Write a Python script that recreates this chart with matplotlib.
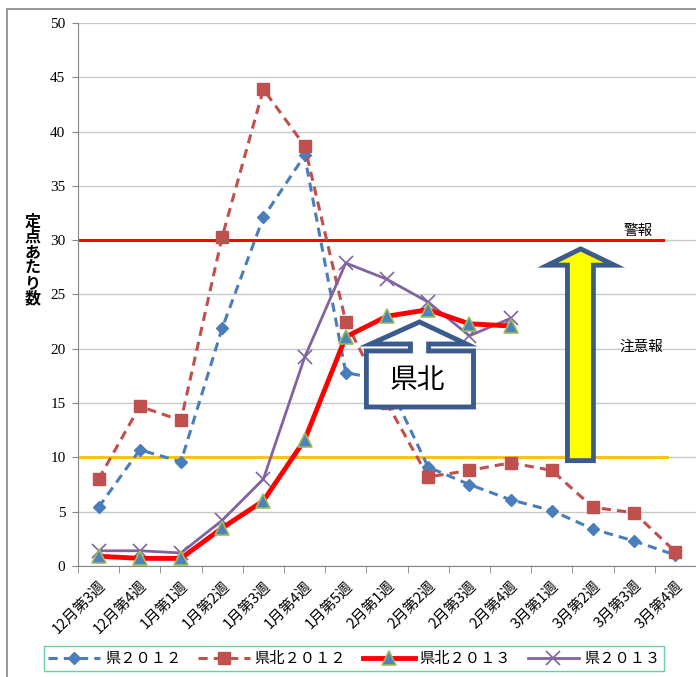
import matplotlib
matplotlib.use('Agg')
import matplotlib.pyplot as plt
from matplotlib.patches import Polygon, Rectangle

plt.rcParams['font.family'] = ['Noto Sans CJK JP', 'DejaVu Sans']

# data
weeks = ['12月第3週', '12月第4週', '1月第1週', '1月第2週', '1月第3週', '1月第4週',
         '1月第5週', '2月第1週', '2月第2週', '2月第3週', '2月第4週', '3月第1週',
         '3月第2週', '3月第3週', '3月第4週']
ken_2012 = [5.4, 10.7, 9.6, 21.9, 32.1, 37.8, 17.8, 17.1, 9.1, 7.5, 6.1, 5.1, 3.4, 2.3, 1.0]
kenhoku_2012 = [8.0, 14.7, 13.4, 30.3, 43.9, 38.7, 22.5, 15.0, 8.2, 8.8, 9.5, 8.8, 5.4, 4.9, 1.3]
kenhoku_2013 = [0.9, 0.7, 0.7, 3.5, 6.0, 11.6, 21.1, 23.0, 23.6, 22.3, 22.1]
ken_2013 = [1.4, 1.4, 1.2, 4.2, 8.0, 19.2, 27.9, 26.4, 24.3, 21.2, 22.8]
warning_level = 30
caution_level = 10

fig = plt.figure(figsize=(6.96, 6.77), dpi=100)
ax = fig.add_axes([0.112, 0.164, 0.888, 0.802])

x_all = list(range(len(weeks)))

# threshold lines
ax.plot([-0.5, 13.71], [warning_level, warning_level], color='#FF0000', lw=2.2, zorder=2)
ax.plot([-0.45, 13.8], [caution_level, caution_level], color='#FFC000', lw=2.0, zorder=2)

l1, = ax.plot(x_all, ken_2012, color='#4A7EBB', lw=2.2, ls=(0, (3, 2)),
              marker='D', ms=6.5, mfc='#4A7EBB', mec='#4A7EBB', zorder=4)
l2, = ax.plot(x_all, kenhoku_2012, color='#C0504D', lw=2.2, ls=(0, (3, 2)),
              marker='s', ms=8.5, mfc='#C0504D', mec='#C0504D', zorder=4)
x13 = list(range(len(kenhoku_2013)))
l3, = ax.plot(x13, kenhoku_2013, color='#FF0000', lw=3.5,
              marker='^', ms=10.5, mfc='#4F81BD', mec='#9BBB59', mew=1.2, zorder=5)
l4, = ax.plot(list(range(len(ken_2013))), ken_2013, color='#8064A2', lw=2.0,
              marker='x', ms=9.5, mew=1.2, zorder=4)

ax.set_xlim(-0.5, len(weeks) - 0.5)
ax.set_ylim(0, 50)
ax.set_yticks(range(0, 51, 5))
ax.tick_params(axis='y', labelsize=11, length=4, color='#868686', pad=5)
for t in ax.get_yticklabels():
    t.set_fontfamily(['Liberation Serif', 'DejaVu Serif'])
ax.yaxis.grid(True, color='#C8C8C8', lw=1.0)
ax.set_axisbelow(True)

ax.set_xticks(x_all)
ax.set_xticklabels(weeks, rotation=45, ha='right', rotation_mode='anchor', fontsize=10.5)
ax.set_xticks([i - 0.5 for i in range(len(weeks) + 1)], minor=True)
ax.tick_params(axis='x', which='major', length=0, pad=9)
ax.tick_params(axis='x', which='minor', length=5, color='#868686')

for s in ['top', 'right']:
    ax.spines[s].set_visible(False)
ax.spines['left'].set_color('#868686')
ax.spines['bottom'].set_color('#868686')

# labels on the right
ax.text(13.1, 30.85, '警報', fontsize=10.5, ha='center', va='center')
ax.text(13.18, 20.2, '注意報', fontsize=10.5, ha='center', va='center')

# yellow arrow
arrow_pts = [(11.38, 9.7), (11.38, 27.7), (10.90, 27.7), (11.70, 29.2),
             (12.52, 27.7), (12.01, 27.7), (12.01, 9.7)]
ax.add_patch(Polygon(arrow_pts, closed=True, fc='#FFFF00', ec='#3B5B8C', lw=3.5, zorder=6))

# 県北 callout
callout = [(6.50, 14.64), (6.50, 19.8), (7.57, 19.8), (7.57, 20.44), (6.60, 20.44),
           (7.79, 22.47), (8.93, 20.44), (8.01, 20.44), (8.01, 19.8), (9.10, 19.8),
           (9.10, 14.64)]
ax.add_patch(Polygon(callout, closed=True, fc='white', ec='#3B5B8C', lw=3.5, zorder=6))
ax.text(7.74, 17.1, '県北', fontsize=20, ha='center', va='center', zorder=7)

# y label, stacked
fig.text(33 / 696, 0.616, '定\n点\nあ\nた\nり\n数', fontsize=11.5, fontweight='bold',
         ha='center', va='center', linespacing=0.95)

leg = fig.legend([l1, l2, l3, l4], ['県２０１２', '県北２０１２', '県北２０１３', '県２０１３'],
                 loc='center', bbox_to_anchor=(0.509, 0.027), ncol=4, fontsize=11,
                 frameon=True, fancybox=False, edgecolor='#4CC38A', handlelength=3.4,
                 columnspacing=1.1, handletextpad=0.3, borderpad=0.25)
leg.get_frame().set_linewidth(1.0)

# outer chart frame
fig.patches.append(Rectangle((7 / 696, -0.05), 1.0, 1 - 9 / 677 + 0.05, transform=fig.transFigure,
                             fill=False, ec='#868686', lw=1.2))

fig.savefig('out.png', dpi=100)
